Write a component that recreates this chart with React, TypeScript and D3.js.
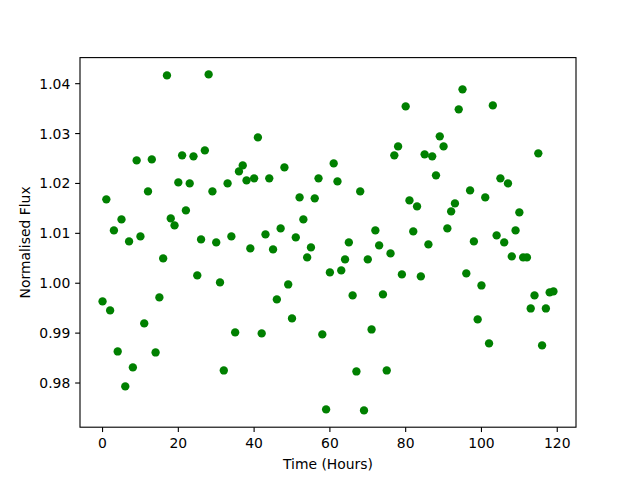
import React from "react";
import * as d3 from "d3";

const hours: number[] = Array.from({ length: 120 }, (_, i) => i);
const flux: number[] = [
  0.99636, 1.01681, 0.99455, 1.01059, 0.98633, 1.0128, 0.97932, 1.00839, 0.98313, 1.02462,
  1.00939, 0.99195, 1.01841, 1.02482, 0.98613, 0.99716, 1.00498, 1.04166, 1.013, 1.01159,
  1.02021, 1.02563, 1.0146, 1.02001, 1.02543, 1.00157, 1.00879, 1.02663, 1.04186, 1.01841,
  1.00819, 1.00017, 0.98252, 1.02001, 1.00939, 0.99014, 1.02242, 1.02362, 1.02061, 1.00698,
  1.02102, 1.02923, 0.98994, 1.00979, 1.02102, 1.00678, 0.99676, 1.01099, 1.02322, 0.99976,
  0.99295, 1.00919, 1.01721, 1.0128, 1.00518, 1.00718, 1.01701, 1.02102, 0.98974, 0.97471,
  1.00217, 1.02402, 1.02041, 1.00257, 1.00478, 1.00819, 0.99756, 0.98232, 1.01841, 0.97451,
  1.00478, 0.99074, 1.01059, 1.00758, 0.99776, 0.98252, 1.00598, 1.02563, 1.02743, 1.00177,
  1.03545, 1.0166, 1.01039, 1.0154, 1.00137, 1.02583, 1.00778, 1.02543, 1.02162, 1.02944,
  1.02743, 1.01099, 1.0144, 1.016, 1.03485, 1.03886, 1.00197, 1.01861, 1.00839, 0.99275,
  0.99956, 1.01721, 0.98794, 1.03565, 1.00959, 1.02102, 1.00819, 1.02001, 1.00538, 1.01059,
  1.0142, 1.00518, 1.00518, 0.99495, 0.99756, 1.02603, 0.98754, 0.99495, 0.99816, 0.99836,
];
const xTicks: number[] = [0, 20, 40, 60, 80, 100, 120];
const yTicks: number[] = [0.98, 0.99, 1.0, 1.01, 1.02, 1.03, 1.04];
const xLabel = "Time (Hours)";
const yLabel = "Normalised Flux";

const W = 640;
const H = 480;
const L = 80;
const R = 576;
const T = 57.6;
const B = 427.2;
const FONT = "DejaVu Sans, sans-serif";
const FS = 13.9;
const TICK = 4.86;

function padded(vals: number[]): [number, number] {
  const [lo, hi] = d3.extent(vals) as [number, number];
  const m = (hi - lo) * 0.05;
  return [lo - m, hi + m];
}

export default function App() {
  const x = d3.scaleLinear().domain(padded(hours)).range([L, R]);
  const y = d3.scaleLinear().domain(padded(flux)).range([B, T]);

  return (
    <svg width={W} height={H} style={{ display: "block", position: "absolute", left: 0, top: 0 }}>
      <rect x={0} y={0} width={W} height={H} fill="#ffffff" />
      <g>
        {hours.map((h, i) => (
          <circle key={i} cx={x(h)} cy={y(flux[i])} r={4.17} fill="#008000" />
        ))}
      </g>
      <rect x={L} y={T} width={R - L} height={B - T} fill="none" stroke="#000" strokeWidth={1.11} />
      {xTicks.map((t) => (
        <g key={"x" + t}>
          <line x1={x(t)} x2={x(t)} y1={B} y2={B + TICK} stroke="#000" strokeWidth={1.11} />
          <text x={x(t)} y={B + 16} textAnchor="middle" dominantBaseline="central" fontFamily={FONT} fontSize={FS} fill="#000">
            {t}
          </text>
        </g>
      ))}
      {yTicks.map((t) => (
        <g key={"y" + t}>
          <line x1={L - TICK} x2={L} y1={y(t)} y2={y(t)} stroke="#000" strokeWidth={1.11} />
          <text x={L - TICK - 4.86} y={y(t)} textAnchor="end" dominantBaseline="central" fontFamily={FONT} fontSize={FS} fill="#000">
            {t.toFixed(2)}
          </text>
        </g>
      ))}
      <text x={(L + R) / 2} y={463.5} textAnchor="middle" dominantBaseline="central" fontFamily={FONT} fontSize={FS} fill="#000">
        {xLabel}
      </text>
      <text
        transform={`translate(25,${(T + B) / 2}) rotate(-90)`}
        textAnchor="middle"
        dominantBaseline="central"
        fontFamily={FONT}
        fontSize={FS}
        fill="#000"
      >
        {yLabel}
      </text>
    </svg>
  );
}
